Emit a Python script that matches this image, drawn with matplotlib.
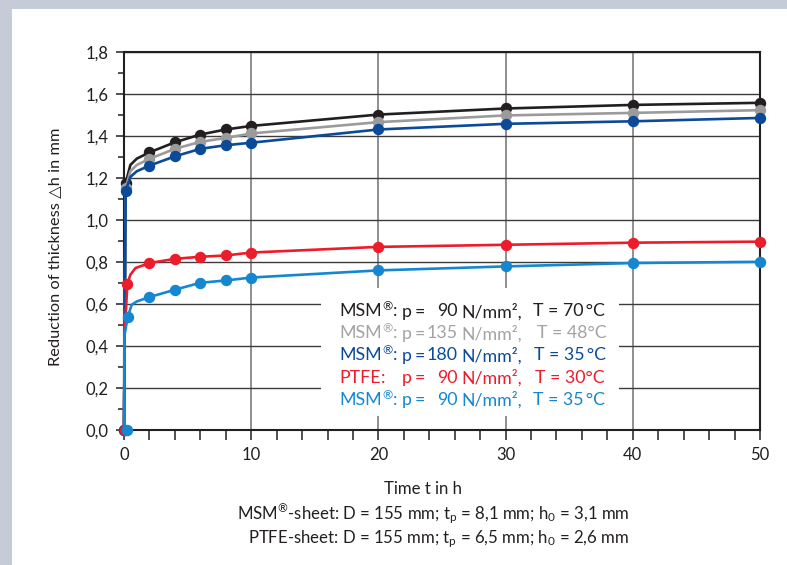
import matplotlib
matplotlib.use("Agg")
import matplotlib.pyplot as plt
from matplotlib import font_manager
from matplotlib.patches import Rectangle
from matplotlib.ticker import MultipleLocator, FuncFormatter

# ---------------- data ----------------
t_black_line = [0, 0.13, 0.5, 1.0, 2, 4, 6, 8, 10, 20, 30, 40, 50]
v_black_line = [0, 1.176, 1.262, 1.292, 1.322, 1.370, 1.407, 1.431, 1.448, 1.502, 1.531, 1.548, 1.558]
t_black_mark = [0, 0.13, 2, 4, 6, 8, 10, 20, 30, 40, 50]
v_black_mark = [0, 1.176, 1.322, 1.370, 1.407, 1.431, 1.448, 1.502, 1.531, 1.548, 1.558]

t_gray_line = [0, 0.13, 0.5, 1.0, 2, 4, 6, 8, 10, 20, 30, 40, 50]
v_gray_line = [0, 1.153, 1.232, 1.262, 1.291, 1.339, 1.372, 1.391, 1.412, 1.466, 1.498, 1.510, 1.523]
t_gray_mark = [0, 0.13, 2, 4, 6, 8, 10, 20, 30, 40, 50]
v_gray_mark = [0, 1.153, 1.291, 1.339, 1.372, 1.391, 1.412, 1.466, 1.498, 1.510, 1.523]

t_dblue_line = [0, 0.13, 0.5, 1.0, 2, 4, 6, 8, 10, 20, 30, 40, 50]
v_dblue_line = [0, 1.140, 1.205, 1.232, 1.259, 1.303, 1.339, 1.356, 1.368, 1.431, 1.458, 1.470, 1.486]
t_dblue_mark = [0, 0.13, 2, 4, 6, 8, 10, 20, 30, 40, 50]
v_dblue_mark = [0, 1.140, 1.259, 1.303, 1.339, 1.356, 1.368, 1.431, 1.458, 1.470, 1.486]

t_red_line = [0, 0.05, 0.26, 0.5, 0.9, 2, 4, 6, 8, 10, 20, 30, 40, 50]
v_red_line = [0, 0.45, 0.695, 0.739, 0.771, 0.795, 0.815, 0.825, 0.831, 0.845, 0.872, 0.882, 0.892, 0.897]
t_red_mark = [0.1, 0.26, 2, 4, 6, 8, 10, 20, 30, 40, 50]
v_red_mark = [0, 0.695, 0.795, 0.815, 0.825, 0.831, 0.845, 0.872, 0.882, 0.892, 0.897]

t_lblue_line = [0, 0.03, 0.29, 0.6, 1.0, 2, 4, 6, 8, 10, 20, 30, 40, 50]
v_lblue_line = [0, 0.45, 0.537, 0.596, 0.612, 0.633, 0.668, 0.701, 0.712, 0.726, 0.760, 0.779, 0.795, 0.801]
t_lblue_mark = [0.25, 0.29, 2, 4, 6, 8, 10, 20, 30, 40, 50]
v_lblue_mark = [0, 0.537, 0.633, 0.668, 0.701, 0.712, 0.726, 0.760, 0.779, 0.795, 0.801]

x_ticks = [0, 10, 20, 30, 40, 50]
y_ticks = [0.0, 0.2, 0.4, 0.6, 0.8, 1.0, 1.2, 1.4, 1.6, 1.8]

legend_names = ["MSM", "MSM", "MSM", "PTFE", "MSM"]
legend_reg = [True, True, True, False, True]
legend_p = ["90", "135", "180", "90", "90"]
legend_T = ["T = 70\u2009°C", "T = 48°C", "T = 35\u2009°C", "T = 30°C", "T = 35\u2009°C"]

x_label = "Time t in h"
y_label = "Reduction of thickness \u25B3h in mm"
note1 = r"MSM$^{\mathrm{®}}$-sheet: D = 155 mm; t$_\mathrm{p}$ = 8,1 mm; h$_\mathrm{0}$ = 3,1 mm"
note2 = r"PTFE-sheet: D = 155 mm; t$_\mathrm{p}$ = 6,5 mm; h$_\mathrm{0}$ = 2,6 mm"

# ---------------- styling ----------------
C_BLACK = "#231f20"
C_GRAY = "#9b9b9b"
C_DBLUE = "#0b4a99"
C_RED = "#ec1c2b"
C_LBLUE = "#1487d0"
C_GRAY_TXT = "#a3a3a3"

names = {f.name for f in font_manager.fontManager.ttflist}
def pick(*cands):
    for c in cands:
        if c in names:
            return c
    return "DejaVu Sans"

F_REG = pick("Lato", "Open Sans", "Noto Sans", "DejaVu Sans")
F_NOTE = pick("Lato", "Open Sans", "DejaVu Sans")

plt.rcParams["font.family"] = [F_REG, "DejaVu Sans"]
plt.rcParams["mathtext.fontset"] = "custom"
plt.rcParams["mathtext.rm"] = F_NOTE
plt.rcParams["mathtext.it"] = F_NOTE

W, H = 787, 565
fig = plt.figure(figsize=(W / 100, H / 100), dpi=100)
fig.patch.set_facecolor("white")

# gray frame strips
fig.patches.append(Rectangle((0, 1 - 9 / H), 1, 9 / H, transform=fig.transFigure,
                             facecolor="#c5ccd8", edgecolor="none", zorder=0))
fig.patches.append(Rectangle((0, 0), 12 / W, 1, transform=fig.transFigure,
                             facecolor="#c5ccd8", edgecolor="none", zorder=0))

L, R, T, B = 124, 760, 52, 430
ax = fig.add_axes([L / W, 1 - B / H, (R - L) / W, (B - T) / H])
ax.set_xlim(0, 50)
ax.set_ylim(0, 1.8)

ax.set_xticks(x_ticks)
ax.xaxis.set_minor_locator(MultipleLocator(2))
ax.set_yticks(y_ticks)
ax.yaxis.set_minor_locator(MultipleLocator(0.1))
ax.yaxis.set_major_formatter(FuncFormatter(lambda v, p: f"{v:.1f}".replace(".", ",")))

ax.tick_params(axis="both", which="both", direction="out", colors=C_BLACK, labelcolor=C_BLACK)
ax.tick_params(axis="x", which="major", length=7, width=1.1, labelsize=12, pad=5)
ax.tick_params(axis="x", which="minor", length=7, width=1.1)
ax.tick_params(axis="y", which="major", length=6, width=1.1, labelsize=12, pad=5)
ax.tick_params(axis="y", which="minor", length=4, width=1.1)

for s in ax.spines.values():
    s.set_color(C_BLACK)
    s.set_linewidth(1.5)

ax.set_axisbelow(True)
ax.grid(True, which="major", axis="y", color="#3c3c3c", linewidth=1.0)
ax.grid(True, which="major", axis="x", color="#7d7d7d", linewidth=1.2)

# white box behind the legend text
ax.add_patch(Rectangle((15.5, 0.065), 23.4, 0.61, facecolor="white", edgecolor="none", zorder=1))

series = [
    (t_black_line, v_black_line, t_black_mark, v_black_mark, C_BLACK),
    (t_gray_line, v_gray_line, t_gray_mark, v_gray_mark, C_GRAY),
    (t_dblue_line, v_dblue_line, t_dblue_mark, v_dblue_mark, C_DBLUE),
    (t_red_line, v_red_line, t_red_mark, v_red_mark, C_RED),
    (t_lblue_line, v_lblue_line, t_lblue_mark, v_lblue_mark, C_LBLUE),
]
for i, (tl, vl, tm, vm, c) in enumerate(series):
    ax.plot(tl, vl, color=c, linewidth=1.9, solid_joinstyle="round", zorder=3 + i, clip_on=False)
    ax.plot(tm, vm, linestyle="none", marker="o", markersize=7.2, color=c,
            zorder=3 + i, clip_on=False)

# legend text
def fx(x):
    return x / W
def fy(y):
    return 1 - y / H

renderer = fig.canvas.get_renderer()
leg_colors = [C_BLACK, C_GRAY_TXT, C_DBLUE, C_RED, C_LBLUE]
rows_y = [311.5, 333.5, 355.5, 378, 400]
T_x = [533, 537, 534, 535, 533]
fs_leg = 12.8
for i in range(5):
    y = fy(rows_y[i])
    c = leg_colors[i]
    kw = dict(color=c, fontsize=fs_leg, va="center", family=[F_REG, "DejaVu Sans"])
    t0 = fig.text(fx(339), y, legend_names[i], ha="left", **kw)
    x_end = t0.get_window_extent(renderer).x1
    if legend_reg[i]:
        kr = dict(kw)
        kr["fontsize"] = fs_leg * 0.7
        t1 = fig.text(x_end / W + 0.5 / W, y + 4.5 / H, "®", ha="left", **kr)
        x_end = t1.get_window_extent(renderer).x1
    fig.text(x_end / W + 0.5 / W, y, ":", ha="left", **kw)
    fig.text(fx(401.5), y, "p", ha="left", **kw)
    fig.text(fx(415), y, "=", ha="left", **kw)
    fig.text(fx(457.5), y, legend_p[i], ha="right", **kw)
    fig.text(fx(461), y, "N/mm²,", ha="left", **kw)
    fig.text(fx(T_x[i]), y, legend_T[i], ha="left", **kw)

# axis labels and notes
fig.text(fx(55), fy((T + B) / 2 + 6), y_label, rotation=90, ha="center", va="center",
         fontsize=11.8, color=C_BLACK, family=[F_REG, "DejaVu Sans"])
fig.text(fx(423), fy(489), x_label, ha="center", va="center", fontsize=12.1,
         color=C_BLACK, family=[F_NOTE, "DejaVu Sans"])
fig.text(fx(433), fy(514), note1, ha="center", va="center", fontsize=12.1,
         color=C_BLACK, family=[F_NOTE, "DejaVu Sans"])
fig.text(fx(438), fy(539), note2, ha="center", va="center", fontsize=12.1,
         color=C_BLACK, family=[F_NOTE, "DejaVu Sans"])

fig.savefig("out.png", dpi=100, facecolor="white")
